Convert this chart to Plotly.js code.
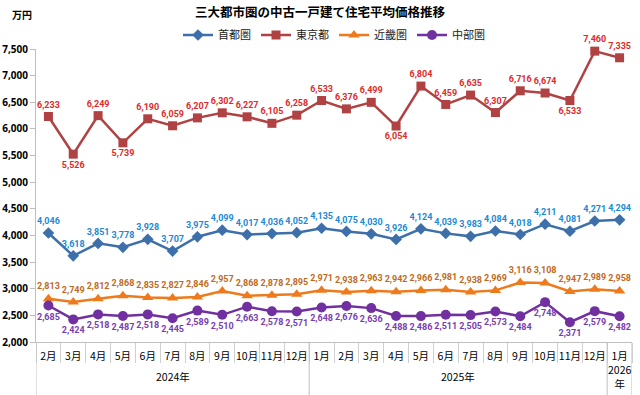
<!DOCTYPE html>
<html><head><meta charset="utf-8">
<script src="https://cdn.plot.ly/plotly-3.0.1.min.js"></script>
<style>html,body{margin:0;padding:0;background:#fff}#c{width:640px;height:395px}</style>
</head><body><div id="c"></div>
<script>
const years = ["2024年","2024年","2024年","2024年","2024年","2024年","2024年","2024年","2024年","2024年","2024年",
  "2025年","2025年","2025年","2025年","2025年","2025年","2025年","2025年","2025年","2025年","2025年","2025年","2026年"];
const months = ["2月","3月","4月","5月","6月","7月","8月","9月","10月","11月","12月",
  "1月","2月","3月","4月","5月","6月","7月","8月","9月","10月","11月","12月","1月"];
const yearLabels = ["2024年","2025年","2026<br>年"];
const shutoken = [4046,3618,3851,3778,3928,3707,3975,4099,4017,4036,4052,4135,4075,4030,3926,4124,4039,3983,4084,4018,4211,4081,4271,4294];
const tokyo = [6233,5526,6249,5739,6190,6059,6207,6302,6227,6105,6258,6533,6376,6499,6054,6804,6459,6635,6307,6716,6674,6533,7460,7335];
const kinki = [2813,2749,2812,2868,2835,2827,2846,2957,2868,2878,2895,2971,2938,2963,2942,2966,2981,2938,2969,3116,3108,2947,2989,2958];
const chubu = [2685,2424,2518,2487,2518,2445,2589,2510,2663,2578,2571,2648,2676,2636,2488,2486,2511,2505,2573,2484,2748,2371,2579,2482];
const tokyoBelow = [1,3,14,21];

const cats = years.map((y,i)=>y+months[i]);
const fmt = v => v.toLocaleString('en-US');
const lblFont = (c) => ({family:'Roboto, sans-serif', size:9, color:c, weight:700});

const traces = [
  {name:'首都圏', x:cats, y:shutoken, mode:'lines+markers+text', text:shutoken.map(fmt), textposition:'top center',
   line:{color:'#3d6fab', width:2.5}, marker:{symbol:'diamond', size:9, color:'#3d6fab'}, textfont:lblFont('#1b8ad6'), cliponaxis:false},
  {name:'東京都', x:cats, y:tokyo, mode:'lines+markers+text', text:tokyo.map(fmt),
   textposition:tokyo.map((v,i)=>tokyoBelow.includes(i)?'bottom center':'top center'),
   line:{color:'#b04243', width:2.5}, marker:{symbol:'square', size:9, color:'#b04243'}, textfont:lblFont('#e02a2a'), cliponaxis:false},
  {name:'近畿圏', x:cats, y:kinki, mode:'lines+markers+text', text:kinki.map(fmt), textposition:'top center',
   line:{color:'#ef7a1c', width:2.5}, marker:{symbol:'triangle-up', size:10, color:'#ef7a1c'}, textfont:lblFont('#bf6a22'), cliponaxis:false},
  {name:'中部圏', x:cats, y:chubu, mode:'lines+markers+text', text:chubu.map(fmt), textposition:'bottom center',
   line:{color:'#7030a0', width:2.5}, marker:{symbol:'circle', size:10, color:'#7030a0'}, textfont:lblFont('#7a3cb0'), cliponaxis:false}
];

const groups = [];
years.forEach((y,i)=>{ if(!groups.length || groups[groups.length-1].y!==y) groups.push({y:y,s:i,e:i}); else groups[groups.length-1].e=i; });
const divY = -53/293;
const shapes = [];
groups.forEach(g=>{
  shapes.push({type:'line', xref:'x', yref:'paper', x0:g.s-0.5, x1:g.s-0.5, y0:0, y1:divY, line:{color:'#bfbfbf', width:1}});
});
shapes.push({type:'line', xref:'x', yref:'paper', x0:years.length-0.5, x1:years.length-0.5, y0:0, y1:divY, line:{color:'#bfbfbf', width:1}});
const annotations = groups.map((g,k)=>({text:yearLabels[k], xref:'x', yref:'paper', x:(g.s+g.e)/2, y:-34/293, yanchor:'middle',
  showarrow:false, font:{family:'"Noto Sans CJK JP", sans-serif', size:10.5, color:'#000'}}));
annotations.push({text:'<b>万円</b>', xref:'paper', yref:'paper', x:-26/596, xanchor:'left', y:35/293+1, yanchor:'middle', showarrow:false,
  font:{family:'"Noto Sans CJK JP", sans-serif', size:10, color:'#000'}});

const layout = {
  width:640, height:395,
  margin:{l:36, r:8, t:49, b:53},
  paper_bgcolor:'#fff', plot_bgcolor:'#fff',
  font:{family:'"Noto Sans CJK JP", sans-serif', size:11, color:'#000'},
  title:{text:'<b>三大都市圏の中古一戸建て住宅平均価格推移</b>', x:0.5, xanchor:'center', y:1-13/395, yanchor:'middle',
         font:{family:'"Noto Sans CJK JP", sans-serif', size:12.5, color:'#000'}},
  showlegend:true,
  legend:{orientation:'h', x:0.5, xanchor:'center', y:1+14/293, yanchor:'middle',
          font:{family:'"Noto Sans CJK JP", sans-serif', size:11, color:'#222'}},
  xaxis:{type:'category', range:[-0.5, cats.length-0.5], tickvals:cats, ticktext:months, tickangle:0,
         showline:true, linecolor:'#bfbfbf', linewidth:1, showgrid:false, zeroline:false,
         ticks:'outside', tickson:'boundaries', ticklen:20, tickcolor:'#d0d0d0', ticklabelstandoff:4,
         tickfont:{family:'"Noto Sans CJK JP", sans-serif', size:10.5, color:'#000'}},
  yaxis:{range:[2000,7500], dtick:500, tickformat:',d', showgrid:false, zeroline:false,
         showline:true, linecolor:'#bfbfbf', linewidth:1, ticks:'outside', ticklen:5, tickcolor:'#bfbfbf',
         tickfont:{family:'"Noto Sans", sans-serif', size:10, color:'#000', weight:700}},
  shapes:shapes,
  annotations:annotations
};
Plotly.newPlot('c', traces, layout, {displayModeBar:false, staticPlot:true});
</script></body></html>
